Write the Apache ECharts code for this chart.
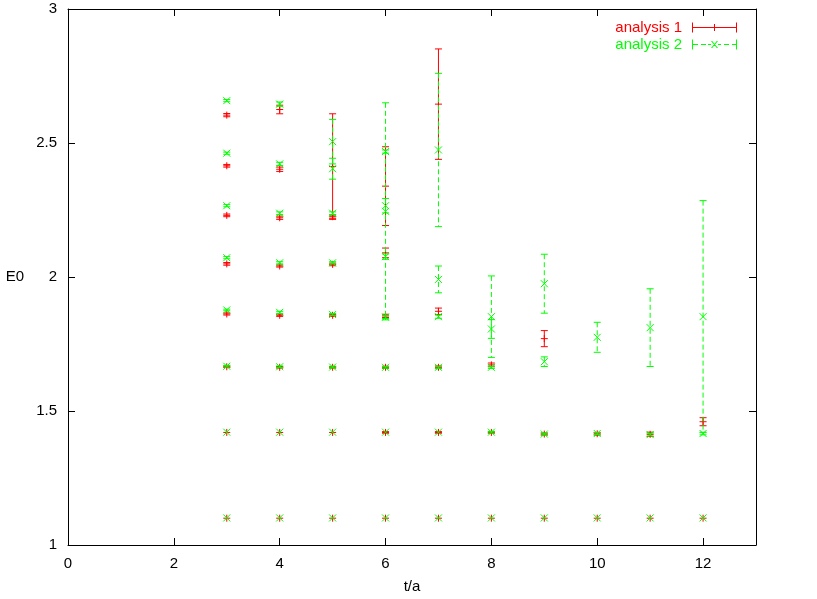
<!DOCTYPE html>
<html>
<head>
<meta charset="utf-8">
<script src="https://cdn.jsdelivr.net/npm/echarts@6/dist/echarts.min.js"></script>
<style>
html, body { margin: 0; background: #fff; }
#chart { width: 817px; height: 599px; }
</style>
</head>
<body>
<div id="chart"></div>
<script>
// analysis 1 : t, E0, error
var t1 = [3, 3, 3, 3, 3, 3, 3, 3,
	4, 4, 4, 4, 4, 4, 4, 4,
	5, 5, 5, 5, 5, 5, 5,
	6, 6, 6, 6, 6, 6,
	7, 7, 7, 7, 7,
	8, 8, 8,
	9, 9, 9,
	10, 10,
	11, 11,
	12, 12];
var e1 = [2.604, 2.415, 2.230, 2.049, 1.862, 1.665, 1.420, 1.100,
	2.625, 2.402, 2.221, 2.041, 1.857, 1.663, 1.420, 1.100,
	2.412, 2.225, 2.047, 1.857, 1.663, 1.420, 1.100,
	2.339, 2.090, 1.855, 1.663, 1.420, 1.100,
	2.645, 1.872, 1.663, 1.420, 1.100,
	1.672, 1.420, 1.100,
	1.770, 1.414, 1.100,
	1.415, 1.100,
	1.413, 1.100,
	1.460, 1.100];
var d1 = [0.006, 0.005, 0.005, 0.005, 0.004, 0.003, 0.002, 0.001,
	0.016, 0.008, 0.006, 0.004, 0.004, 0.003, 0.002, 0.001,
	0.197, 0.006, 0.005, 0.004, 0.003, 0.002, 0.001,
	0.147, 0.018, 0.006, 0.004, 0.003, 0.001,
	0.206, 0.012, 0.005, 0.003, 0.001,
	0.007, 0.003, 0.001,
	0.030, 0.004, 0.001,
	0.005, 0.002,
	0.008, 0.002,
	0.015, 0.002];

// analysis 2 : t, E0, error
var t2 = [3, 3, 3, 3, 3, 3, 3, 3,
	4, 4, 4, 4, 4, 4, 4, 4,
	5, 5, 5, 5, 5, 5, 5, 5,
	6, 6, 6, 6, 6, 6, 6, 6,
	7, 7, 7, 7, 7, 7,
	8, 8, 8, 8, 8,
	9, 9, 9, 9,
	10, 10, 10,
	11, 11, 11,
	12, 12, 12];
var e2 = [2.658, 2.462, 2.266, 2.072, 1.877, 1.667, 1.421, 1.101,
	2.645, 2.422, 2.238, 2.053, 1.868, 1.665, 1.421, 1.101,
	2.505, 2.404, 2.238, 2.053, 1.860, 1.664, 1.421, 1.101,
	2.468, 2.266, 2.245, 2.076, 1.850, 1.663, 1.421, 1.101,
	2.474, 1.991, 1.852, 1.663, 1.421, 1.101,
	1.852, 1.806, 1.663, 1.421, 1.101,
	1.975, 1.684, 1.414, 1.101,
	1.775, 1.416, 1.101,
	1.811, 1.412, 1.101,
	1.852, 1.416, 1.101];
var d2 = [0.004, 0.004, 0.004, 0.004, 0.003, 0.003, 0.002, 0.001,
	0.008, 0.006, 0.005, 0.004, 0.004, 0.003, 0.002, 0.001,
	0.083, 0.039, 0.005, 0.004, 0.004, 0.003, 0.002, 0.001,
	0.006, 0.027, 0.405, 0.010, 0.005, 0.003, 0.002, 0.001,
	0.286, 0.050, 0.006, 0.004, 0.002, 0.001,
	0.152, 0.035, 0.004, 0.003, 0.001,
	0.110, 0.018, 0.004, 0.001,
	0.056, 0.004, 0.002,
	0.145, 0.005, 0.002,
	0.433, 0.005, 0.002];

var xTicks = [0, 2, 4, 6, 8, 10, 12];
var yTicks = [1, 1.5, 2, 2.5, 3];

var RED = '#ff0000', GREEN = '#00ff00';
var FONT = '"Liberation Sans", Arial, sans-serif';
var FS = 15;

function rows(t, e, d) {
	return t.map(function (v, i) { return [v, e[i], d[i]]; });
}

// gnuplot-like error bar with caps, then the point symbol on top
function errorBar(color, dash, symbol) {
	return function (params, api) {
		var t = api.value(0), e = api.value(1), d = api.value(2);
		var p = api.coord([t, e]);
		var hi = api.coord([t, e + d]);
		var lo = api.coord([t, e - d]);
		var cap = 3.5, m = 3.5;
		var bar = { stroke: color, lineWidth: 1, lineDash: dash, fill: null };
		var pt = { stroke: color, lineWidth: 1, fill: null };
		var kids = [];
		if (lo[1] - hi[1] > 1.5) {
			kids.push({ type: 'line', shape: { x1: p[0], y1: hi[1], x2: p[0], y2: lo[1] }, style: bar });
			kids.push({ type: 'line', shape: { x1: p[0] - cap, y1: hi[1], x2: p[0] + cap, y2: hi[1] }, style: pt });
			kids.push({ type: 'line', shape: { x1: p[0] - cap, y1: lo[1], x2: p[0] + cap, y2: lo[1] }, style: pt });
		}
		if (symbol === 'plus') {
			kids.push({ type: 'line', shape: { x1: p[0] - m, y1: p[1], x2: p[0] + m, y2: p[1] }, style: pt });
			kids.push({ type: 'line', shape: { x1: p[0], y1: p[1] - m, x2: p[0], y2: p[1] + m }, style: pt });
		} else {
			kids.push({ type: 'line', shape: { x1: p[0] - m, y1: p[1] - m, x2: p[0] + m, y2: p[1] + m }, style: pt });
			kids.push({ type: 'line', shape: { x1: p[0] - m, y1: p[1] + m, x2: p[0] + m, y2: p[1] - m }, style: pt });
		}
		return { type: 'group', children: kids };
	};
}

var iconRed = 'path://M0,0h1v10h-1zM44,0h1v10h-1zM0,4.5h45v1h-45zM22,1.5h1v7h-1z';
var iconGreen = 'path://M0,0h1v10h-1zM44,0h1v10h-1z' +
	'M1,4.5h5v1h-5zM9,4.5h5v1h-5zM16,4.5h3v1h-3zM26,4.5h3v1h-3zM32,4.5h5v1h-5zM40,4.5h4v1h-4z' +
	'M19,1.5L20.2,1.5L26,8.5L24.8,8.5ZM24.8,1.5L26,1.5L20.2,8.5L19,8.5Z';

var chart = echarts.init(document.getElementById('chart'));

var baseX = { type: 'value', min: 0, max: 13, interval: 2 };
var baseY = { type: 'value', min: 1, max: 3, interval: 0.5 };
var line = { show: true, onZero: false, lineStyle: { color: '#000', width: 1 } };
var tick = { show: true, inside: true, length: 7, lineStyle: { color: '#000' } };

chart.setOption({
	animation: false,
	backgroundColor: '#fff',
	textStyle: { fontFamily: FONT },
	grid: { left: 68, right: 61, top: 9, bottom: 54, outerBoundsMode: 'none' },
	legend: {
		orient: 'vertical',
		right: 75,
		top: 15,
		align: 'right',
		itemWidth: 45,
		itemHeight: 10,
		itemGap: 2,
		textStyle: { fontFamily: FONT, fontSize: FS, padding: [0, 5, 0, 0] },
		data: [
			{ name: 'analysis 1', icon: iconRed, itemStyle: { color: RED, borderWidth: 0 }, textStyle: { color: RED } },
			{ name: 'analysis 2', icon: iconGreen, itemStyle: { color: GREEN, borderWidth: 0 }, textStyle: { color: GREEN } }
		]
	},
	xAxis: [
		Object.assign({}, baseX, {
			position: 'bottom',
			name: 't/a',
			nameLocation: 'middle',
			nameGap: 34,
			nameTextStyle: { color: '#000', fontSize: FS, fontFamily: FONT },
			axisLine: line,
			axisTick: tick,
			splitLine: { show: false },
			axisLabel: {
				color: '#000', fontSize: FS, fontFamily: FONT, margin: 11, showMaxLabel: false,
				formatter: function (v) { return xTicks.indexOf(v) >= 0 ? String(v) : ''; }
			}
		}),
		Object.assign({}, baseX, {
			position: 'top',
			axisLine: line,
			axisTick: tick,
			splitLine: { show: false },
			axisLabel: { show: false }
		})
	],
	yAxis: [
		Object.assign({}, baseY, {
			position: 'left',
			name: 'E0',
			nameLocation: 'middle',
			nameRotate: 0,
			nameGap: 44,
			nameTextStyle: { color: '#000', fontSize: FS, fontFamily: FONT },
			axisLine: line,
			axisTick: tick,
			splitLine: { show: false },
			axisLabel: {
				color: '#000', fontSize: FS, fontFamily: FONT, margin: 11,
				formatter: function (v) { return yTicks.indexOf(v) >= 0 ? String(v) : ''; }
			}
		}),
		Object.assign({}, baseY, {
			position: 'right',
			axisLine: line,
			axisTick: tick,
			splitLine: { show: false },
			axisLabel: { show: false }
		})
	],
	series: [
		{
			name: 'analysis 1',
			type: 'custom',
			color: RED,
			itemStyle: { color: RED },
			renderItem: errorBar(RED, null, 'plus'),
			encode: { x: 0, y: 1 },
			data: rows(t1, e1, d1)
		},
		{
			name: 'analysis 2',
			type: 'custom',
			color: GREEN,
			itemStyle: { color: GREEN },
			renderItem: errorBar(GREEN, [5, 3], 'cross'),
			encode: { x: 0, y: 1 },
			data: rows(t2, e2, d2)
		}
	]
});
</script>
</body>
</html>
